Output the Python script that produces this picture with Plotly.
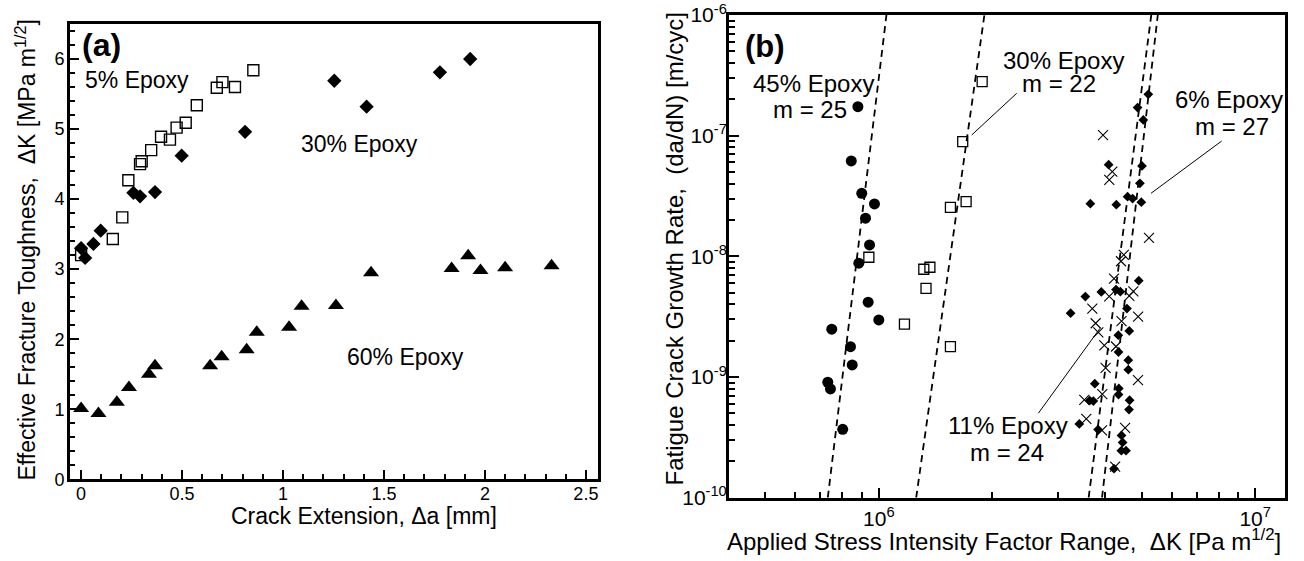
import numpy as np
import plotly.graph_objects as go

W, H = 1304, 561
FONT = "Liberation Sans, Arial, sans-serif"


def px(x):
    return x / W


def py(y):
    return 1 - y / H


# ---------------- Panel (a): effective fracture toughness vs crack extension
a5_x = [0.00, 0.157, 0.204, 0.234, 0.292, 0.300, 0.347, 0.396, 0.440, 0.473,
        0.518, 0.573, 0.672, 0.700, 0.762, 0.853]
a5_y = [3.20, 3.43, 3.74, 4.27, 4.50, 4.54, 4.70, 4.89, 4.85, 5.02,
        5.09, 5.34, 5.59, 5.67, 5.60, 5.84]

a30_x = [0.00, 0.020, 0.061, 0.097, 0.259, 0.292, 0.366, 0.498, 0.812,
         1.254, 1.414, 1.777, 1.927]
a30_y = [3.30, 3.16, 3.36, 3.55, 4.09, 4.04, 4.10, 4.62, 4.96,
         5.69, 5.32, 5.81, 6.00]

a60_x = [0.00, 0.086, 0.177, 0.237, 0.336, 0.366, 0.639, 0.696, 0.820, 0.870,
         1.030, 1.092, 1.262, 1.436, 1.835, 1.917, 1.978, 2.100, 2.330]
a60_y = [1.01, 0.94, 1.10, 1.31, 1.50, 1.62, 1.62, 1.75, 1.85, 2.10,
         2.17, 2.47, 2.48, 2.95, 3.01, 3.19, 2.98, 3.02, 3.05]

# ---------------- Panel (b): fatigue crack growth rate vs stress intensity range
b45_K = [8.80e5, 8.45e5, 9.01e5, 9.74e5, 9.22e5, 9.45e5, 8.85e5, 9.37e5,
         1.00e6, 7.50e5, 8.41e5, 8.50e5, 7.32e5, 7.44e5, 8.02e5]
b45_R = [1.74e-7, 6.17e-8, 3.33e-8, 2.72e-8, 2.07e-8, 1.243e-8, 8.77e-9,
         4.17e-9, 2.97e-9, 2.49e-9, 1.785e-9, 1.26e-9, 9.05e-10, 7.97e-10,
         3.69e-10]

b30_K = [1.882e6, 1.671e6, 1.550e6, 1.706e6, 9.41e5, 1.317e6, 1.367e6,
         1.335e6, 1.170e6, 1.550e6]
b30_R = [2.80e-7, 8.92e-8, 2.55e-8, 2.84e-8, 9.83e-9, 7.82e-9, 8.12e-9,
         5.42e-9, 2.74e-9, 1.785e-9]

b6_K = [5.200e6, 4.870e6, 5.043e6, 4.080e6, 5.003e6, 4.940e6, 3.648e6,
        4.276e6, 4.581e6, 4.724e6, 4.982e6, 4.906e6, 4.268e6, 4.382e6,
        3.901e6, 3.538e6, 3.233e6, 4.564e6, 4.629e6, 4.328e6, 4.334e6,
        4.601e6, 4.601e6, 3.749e6, 4.342e6, 4.334e6, 3.633e6, 3.715e6,
        4.638e6, 4.621e6, 3.410e6, 3.825e6, 4.414e6, 4.444e6, 4.409e6,
        4.537e6, 4.216e6]
b6_R = [2.20e-7, 1.71e-7, 1.35e-7, 5.75e-8, 5.61e-8, 4.03e-8, 2.73e-8,
        2.68e-8, 3.12e-8, 3.01e-8, 2.81e-8, 6.29e-9, 5.30e-9, 5.10e-9,
        5.07e-9, 4.64e-9, 3.38e-9, 3.69e-9, 2.41e-9, 2.22e-9, 1.61e-9,
        1.38e-9, 1.15e-9, 8.80e-10, 8.04e-10, 7.15e-10, 6.38e-10, 6.32e-10,
        6.42e-10, 5.37e-10, 4.09e-10, 3.67e-10, 3.28e-10, 2.87e-10, 2.45e-10,
        2.45e-10, 1.74e-10]

b11_K = [3.942e6, 4.172e6, 4.096e6, 5.222e6, 4.476e6, 4.400e6, 4.216e6,
         4.096e6, 4.629e6, 4.745e6, 3.692e6, 4.886e6, 4.414e6, 3.768e6,
         3.830e6, 3.974e6, 4.268e6, 4.005e6, 4.882e6, 3.925e6, 3.516e6,
         3.559e6, 3.917e6, 4.512e6, 4.245e6]
b11_R = [1.01e-7, 5.03e-8, 4.30e-8, 1.42e-8, 1.03e-8, 9.11e-9, 6.54e-9,
         4.65e-9, 4.70e-9, 5.12e-9, 3.69e-9, 3.17e-9, 2.90e-9, 2.79e-9,
         2.34e-9, 1.83e-9, 1.79e-9, 1.19e-9, 9.41e-10, 7.22e-10, 6.46e-10,
         4.50e-10, 3.62e-10, 3.79e-10, 1.81e-10]

# Paris-law fit lines (end points at the rate-axis limits)
fit_rate = [1e-10, 1e-6]
fit45_K = [7.32e5, 1.048e6]
fit30_K = [1.257e6, 1.908e6]
fit11_K = [3.61e6, 5.296e6]
fit6_K = [3.918e6, 5.511e6]

fig = go.Figure()

# panel (a)
fig.add_trace(go.Scatter(x=a5_x, y=a5_y, mode="markers", xaxis="x", yaxis="y",
                         marker=dict(symbol="square-open", size=11, color="black",
                                     line=dict(width=1.4))))
fig.add_trace(go.Scatter(x=a30_x, y=a30_y, mode="markers", xaxis="x", yaxis="y",
                         marker=dict(symbol="diamond", size=11, color="black")))
fig.add_trace(go.Scatter(x=a60_x, y=a60_y, mode="markers", xaxis="x", yaxis="y",
                         marker=dict(symbol="triangle-up", size=14, color="black")))

# panel (b) fit lines
for fk in (fit45_K, fit30_K, fit11_K, fit6_K):
    fig.add_trace(go.Scatter(x=fk, y=fit_rate, mode="lines", xaxis="x2", yaxis="y2",
                             line=dict(color="black", width=1.8, dash="7px,5px")))

fig.add_trace(go.Scatter(x=b45_K, y=b45_R, mode="markers", xaxis="x2", yaxis="y2",
                         marker=dict(symbol="circle", size=11, color="black")))
fig.add_trace(go.Scatter(x=b30_K, y=b30_R, mode="markers", xaxis="x2", yaxis="y2",
                         marker=dict(symbol="square-open", size=10, color="black",
                                     line=dict(width=1.3))))
fig.add_trace(go.Scatter(x=b6_K, y=b6_R, mode="markers", xaxis="x2", yaxis="y2",
                         marker=dict(symbol="diamond", size=7.5, color="black")))
fig.add_trace(go.Scatter(x=b11_K, y=b11_R, mode="markers", xaxis="x2", yaxis="y2",
                         marker=dict(symbol="x-thin-open", size=10, color="black",
                                     line=dict(width=1.1))))

common = dict(showline=True, mirror=True, linecolor="black", linewidth=3,
              ticks="inside", tickcolor="black", tickwidth=1.5,
              showgrid=False, zeroline=False, automargin=False)

sup_dec_x = [1e6, 1e7]
sup_dec_y = [1e-10, 1e-9, 1e-8, 1e-7, 1e-6]

fig.update_layout(
    template="none",
    width=W, height=H,
    margin=dict(l=0, r=0, t=0, b=0, pad=0),
    paper_bgcolor="white", plot_bgcolor="white",
    showlegend=False,
    font=dict(family=FONT, color="black"),
    xaxis=dict(domain=[px(70), px(598)], range=[-0.055, 2.56], anchor="y",
               tick0=0, dtick=0.5, ticklen=9, ticklabelstandoff=-4,
               minor=dict(ticks="inside", dtick=0.1, ticklen=5, tickcolor="black", tickwidth=1.5),
               tickfont=dict(family=FONT, size=18, color="black"), **common),
    yaxis=dict(domain=[py(479.3), py(24)], range=[0, 6.5], anchor="x",
               tick0=0, dtick=1, ticklen=9, ticklabelstandoff=-1,
               minor=dict(ticks="inside", dtick=0.2, ticklen=5, tickcolor="black", tickwidth=1.5),
               tickfont=dict(family=FONT, size=18, color="black"), **common),
    xaxis2=dict(type="log", domain=[px(729), px(1285)],
                range=[np.log10(4e5), np.log10(1.2e7)], anchor="y2",
                tickmode="array", tickvals=sup_dec_x,
                ticktext=["10<sup>6</sup>", "10<sup>7</sup>"], ticklen=10,
                minor=dict(ticks="inside", dtick="D1", ticklen=6, tickcolor="black", tickwidth=1.5),
                tickfont=dict(family=FONT, size=21, color="black"), **common),
    yaxis2=dict(type="log", domain=[py(497.7), py(15)], range=[-10, -6], anchor="x2",
                tickmode="array", tickvals=sup_dec_y, ticklabelstandoff=-5,
                ticktext=["10<sup>-10</sup>", "10<sup>-9</sup>", "10<sup>-8</sup>",
                          "10<sup>-7</sup>", "10<sup>-6</sup>"], ticklen=10,
                minor=dict(ticks="inside", dtick="D1", ticklen=6, tickcolor="black", tickwidth=1.5),
                tickfont=dict(family=FONT, size=21, color="black"), **common),
)


def label(text, x, y, size, xanchor="left", bold=False, angle=0):
    fig.add_annotation(text=("<b>%s</b>" % text) if bold else text,
                       x=px(x), y=py(y), xref="paper", yref="paper",
                       xanchor=xanchor, yanchor="middle", showarrow=False,
                       textangle=angle,
                       font=dict(family=FONT, size=size, color="black"))


# panel (a) texts
label("(a)", 80, 45, 32, bold=True)
label("5% Epoxy", 83, 80, 23)
label("30% Epoxy", 299, 143.5, 23)
label("60% Epoxy", 345, 357, 23)
label("Crack Extension, \u0394a [mm]", 364, 516, 23, xanchor="center")
label("Effective Fracture Toughness,  \u0394K [MPa m<sup>1/2</sup>]", 25, 250.5, 23,
      xanchor="center", angle=-90)

# panel (b) texts
label("(b)", 743, 46, 31, bold=True)
label("45% Epoxy", 814, 84, 24, xanchor="center")
label("m = 25", 810, 109, 24, xanchor="center")
label("30% Epoxy", 1063, 60.5, 24, xanchor="center")
label("m = 22", 1059, 84, 24, xanchor="center")
label("6% Epoxy", 1229, 99, 24, xanchor="center")
label("m = 27", 1231.5, 126, 24, xanchor="center")
label("11% Epoxy", 1070, 425.5, 24, xanchor="right")
label("m = 24", 1046, 452, 24, xanchor="right")
label("Applied Stress Intensity Factor Range,  \u0394K [Pa m<sup>1/2</sup>]", 1003.5, 540, 24,
      xanchor="center")
label("Fatigue Crack Growth Rate,  (da/dN) [m/cyc]", 674, 249.5, 24,
      xanchor="center", angle=-90)

# leader lines from labels to the data
leaders = [((1016.7, 93.3), (971.7, 135)),
           ((1221.7, 141), (1151, 193.3)),
           ((1038.3, 413.3), (1100, 328.3))]
for (x0, y0), (x1, y1) in leaders:
    fig.add_shape(type="line", xref="paper", yref="paper",
                  x0=px(x0), y0=py(y0), x1=px(x1), y1=py(y1),
                  line=dict(color="black", width=1))

fig.write_html("out.html", config={"displayModeBar": False},
               post_script="document.body.style.margin='0';")
